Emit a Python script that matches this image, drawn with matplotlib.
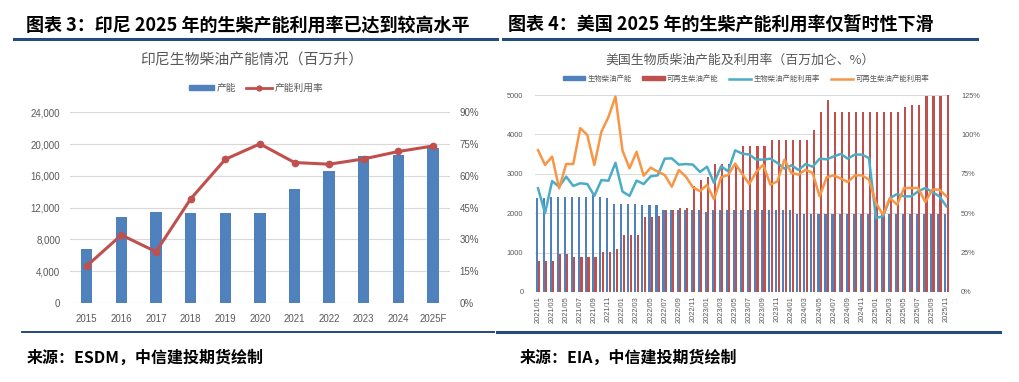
import numpy as np
import matplotlib
matplotlib.use('Agg')
import matplotlib.pyplot as plt
from matplotlib.lines import Line2D
from matplotlib.patches import Patch

plt.rcParams['font.family'] = ['Noto Sans CJK SC', 'DejaVu Sans']

# ---- left chart: Indonesia biodiesel capacity (million litres) ----
years = ['2015', '2016', '2017', '2018', '2019', '2020', '2021', '2022', '2023', '2024', '2025F']
id_capacity = [6760, 10870, 11500, 11290, 11290, 11290, 14400, 16660, 18550, 18640, 19560]
id_util = [17.5, 32.1, 24.2, 49.1, 67.8, 75.1, 66.3, 65.5, 68.0, 71.5, 74.1]

# ---- right chart: US biodiesel / renewable diesel (million gallons, %) ----
months = [f'{y}/{m:02d}' for y in range(2021, 2026) for m in range(1, 13)][:59]
bio_cap = [2380, 2380, 2420, 2420, 2420, 2420, 2420, 2420, 2450, 2420,
           2380, 2240, 2240, 2230, 2230, 2210, 2210, 2210, 2080, 2080,
           2080, 2090, 2080, 2080, 2040, 2070, 2080, 2080, 2080, 2080,
           2080, 2080, 2080, 2090, 2080, 2080, 2080, 1990, 1990, 1990,
           1990, 1990, 1990, 1990, 1980, 1980, 1980, 1980, 1980, 1980,
           1980, 1980, 1980, 1980, 1980, 1980, 1980, 1980, 1980]
rd_cap = [780, 780, 780, 960, 960, 880, 880, 880, 880, 1010,
          1010, 1100, 1450, 1450, 1450, 1900, 1900, 1930, 2080, 2080,
          2120, 2120, 2700, 2850, 2930, 3250, 3250, 3250, 3250, 3700,
          3700, 3700, 3700, 3850, 3850, 3850, 3850, 3850, 3850, 4100,
          4570, 4880, 4570, 4570, 4570, 4570, 4570, 4570, 4570, 4570,
          4570, 4570, 4700, 4750, 4750, 4970, 4970, 4970, 5000]
bio_util = [65.8, 50.0, 70.4, 66.8, 73.2, 67.3, 69.0, 68.5, 61.0, 71.0,
            70.6, 82.0, 63.7, 61.0, 70.7, 68.5, 73.4, 74.0, 84.6, 84.8,
            80.8, 81.2, 80.8, 76.2, 79.5, 69.2, 79.8, 76.6, 89.9, 87.8,
            87.2, 84.0, 84.0, 84.6, 81.9, 78.3, 80.4, 77.4, 81.2, 79.5,
            84.6, 84.2, 86.0, 87.6, 84.6, 87.2, 87.2, 85.0, 47.0, 48.0,
            59.6, 62.2, 60.7, 60.7, 63.9, 66.0, 63.5, 60.7, 54.4]
rd_util = [90.0, 80.6, 85.9, 65.8, 81.2, 81.2, 104.0, 99.6, 80.6, 101.7,
           111.0, 124.0, 89.7, 78.5, 89.0, 73.8, 78.9, 76.4, 74.2, 66.8,
           77.4, 73.2, 66.4, 64.0, 67.9, 58.8, 72.8, 74.2, 81.5, 74.9,
           68.5, 76.2, 80.8, 68.1, 70.2, 84.0, 75.5, 74.5, 77.6, 75.5,
           60.7, 72.8, 74.0, 72.0, 69.8, 74.0, 74.0, 71.3, 56.5, 49.0,
           59.6, 55.4, 66.0, 66.0, 66.0, 57.1, 65.0, 65.0, 60.7]

BLUE = '#4F81BD'
RED = '#C0504D'
TEAL = '#4BACC6'
ORANGE = '#F79646'
GRID = '#D9D9D9'
TXT = '#595959'
NAVY = '#254A7C'

W, H = 1019, 382
fig = plt.figure(figsize=(W / 100, H / 100), dpi=100)


def fx(x):
    return x / W


def fy(y):
    return 1 - y / H


# headers, rules, sources
fig.text(fx(26), fy(25), '图表 3：印尼 2025 年的生柴产能利用率已达到较高水平',
         fontsize=13, fontweight='bold', va='center', ha='left')
fig.text(fx(508), fy(24), '图表 4：美国 2025 年的生柴产能利用率仅暂时性下滑',
         fontsize=13, fontweight='bold', va='center', ha='left')
for x0, x1, y, lw in [(14, 497, 38.5, 2.2), (503, 977, 38.5, 2.2),
                      (22, 494, 332, 1.4), (497, 1000, 332, 2.2)]:
    fig.add_artist(Line2D([fx(x0), fx(x1)], [fy(y), fy(y)], color=NAVY, lw=lw))
fig.text(fx(27), fy(358), '来源：ESDM，中信建投期货绘制', fontsize=11.5,
         fontweight='bold', va='center', ha='left')
fig.text(fx(520), fy(358), '来源：EIA，中信建投期货绘制', fontsize=11.5,
         fontweight='bold', va='center', ha='left')

# ---- left chart ----
fig.text(fx(252), fy(60), '印尼生物柴油产能情况（百万升）', fontsize=10.7,
         color=TXT, ha='center', va='center')
axL = fig.add_axes([fx(70), fy(303), (450 - 70) / W, (303 - 112.3) / H])
x = np.arange(len(years))
axL.bar(x, id_capacity, width=0.33, color=BLUE, zorder=3)
axL.set_xlim(-0.483, 10.49)
axL.set_ylim(0, 24000)
axL.set_yticks(np.arange(0, 24001, 4000))
axL.set_yticklabels([f'{v:,}' for v in range(0, 24001, 4000)])
axL.set_xticks(x)
axL.set_xticklabels(years)
axL.yaxis.grid(True, color=GRID, lw=0.8)
axL.set_axisbelow(True)
axL2 = axL.twinx()
axL2.plot(x, np.array(id_util) / 100, color=RED, lw=2.2, marker='o', ms=4.5, zorder=4)
axL2.set_ylim(0, 0.9)
axL2.set_yticks(np.arange(0, 0.91, 0.15))
axL2.set_yticklabels([f'{v}%' for v in range(0, 91, 15)])
for a in (axL, axL2):
    for s in a.spines.values():
        s.set_visible(False)
    a.tick_params(length=0, labelsize=7, colors=TXT, pad=7)
    for lab in a.get_xticklabels() + a.get_yticklabels():
        lab.set_family(['Liberation Sans'])
axL.tick_params(axis='x', pad=8)
fig.legend(handles=[Patch(color=BLUE, label='产能'),
                    Line2D([], [], color=RED, lw=2, marker='o', ms=3.5, label='产能利用率')],
           loc='center', bbox_to_anchor=(fx(256), fy(88)), ncol=2, frameon=False,
           fontsize=7, handlelength=2.6, handleheight=0.5, columnspacing=1.0,
           handletextpad=0.3, labelcolor=TXT)

# ---- right chart ----
fig.text(fx(740), fy(60), '美国生物质柴油产能及利用率（百万加仑、%）', fontsize=9.3,
         color=TXT, ha='center', va='center')
axU = fig.add_axes([fx(534.5), fy(292), 415.4 / W, 197 / H])
xm = np.arange(len(months))
axU.bar(xm - 0.17, bio_cap, width=0.3, color=BLUE, zorder=3)
axU.bar(xm + 0.17, rd_cap, width=0.3, color=RED, zorder=3)
axU.set_xlim(-0.5, len(months) - 0.5)
axU.set_ylim(0, 5000)
axU.set_yticks(np.arange(0, 5001, 1000))
axU.set_xticks(xm[::2])
axU.set_xticklabels(months[::2], rotation=90)
axU.yaxis.grid(True, color=GRID, lw=0.7)
axU.set_axisbelow(True)
axU2 = axU.twinx()
axU2.plot(xm, np.array(bio_util) / 100, color=TEAL, lw=1.8, zorder=4)
axU2.plot(xm, np.array(rd_util) / 100, color=ORANGE, lw=1.8, zorder=4)
axU2.set_ylim(0, 1.25)
axU2.set_yticks(np.arange(0, 1.26, 0.25))
axU2.set_yticklabels([f'{v}%' for v in range(0, 126, 25)])
for a in (axU, axU2):
    for s in a.spines.values():
        s.set_visible(False)
    a.tick_params(length=0, labelsize=5.3, colors=TXT, pad=8)
    for lab in a.get_xticklabels() + a.get_yticklabels():
        lab.set_family(['Liberation Sans'])
axU.tick_params(axis='x', pad=3)
fig.legend(handles=[Patch(color=BLUE, label='生物柴油产能'),
                    Patch(color=RED, label='可再生柴油产能'),
                    Line2D([], [], color=TEAL, lw=1.8, label='生物柴油产能利用率'),
                    Line2D([], [], color=ORANGE, lw=1.8, label='可再生柴油产能利用率')],
           loc='center', bbox_to_anchor=(fx(746), fy(79)), ncol=4, frameon=False,
           fontsize=5.3, handlelength=3, handleheight=0.5, columnspacing=1.5,
           handletextpad=0.3, labelcolor=TXT)

fig.savefig('out.png', dpi=100)
